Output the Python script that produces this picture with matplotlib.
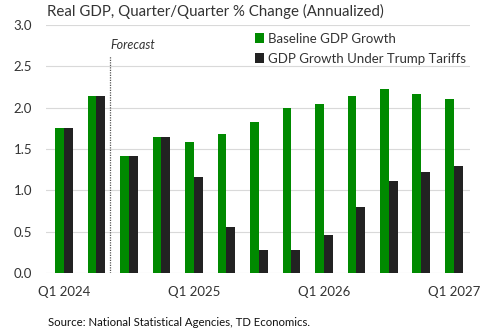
import matplotlib.pyplot as plt
import numpy as np

plt.rcParams['font.family'] = ['Lato', 'DejaVu Sans']

quarters = ['Q1 2024', 'Q2 2024', 'Q3 2024', 'Q4 2024',
            'Q1 2025', 'Q2 2025', 'Q3 2025', 'Q4 2025',
            'Q1 2026', 'Q2 2026', 'Q3 2026', 'Q4 2026', 'Q1 2027']
baseline = [1.76, 2.14, 1.42, 1.64, 1.58, 1.68, 1.83, 2.00, 2.05, 2.14, 2.23, 2.16, 2.11]
tariffs = [1.76, 2.14, 1.42, 1.64, 1.16, 0.56, 0.28, 0.28, 0.46, 0.80, 1.11, 1.22, 1.29]
tick_labels = ['Q1 2024', 'Q1 2025', 'Q1 2026', 'Q1 2027']

txt = '#333333'
x = np.arange(len(quarters))
w = 0.27

fig = plt.figure(figsize=(5, 3.33), dpi=100)
ax = fig.add_axes([0.092, 0.18, 0.848, 0.745])

ax.bar(x - w/2, baseline, w, color='#008a00', label='Baseline GDP Growth', zorder=3)
ax.bar(x + w/2, tariffs, w, color='#222222', label='GDP Growth Under Trump Tariffs', zorder=3)

# forecast divider
ax.axvline(1.43, ymin=0, ymax=0.875, color='#555555', ls=(0, (1, 1)), lw=0.9, zorder=2)
ax.text(1.43, 2.76, 'Forecast', fontsize=9, style='italic', color=txt, va='center', ha='left')

ax.set_xlim(-0.55, 12.5)
ax.set_ylim(0, 3)
ax.set_yticks(np.arange(0, 3.01, 0.5))
ax.set_yticklabels([f'{v:.1f}' for v in np.arange(0, 3.01, 0.5)])
ax.set_xticks([quarters.index(q) for q in tick_labels])
ax.set_xticklabels(tick_labels)
ax.tick_params(length=0, labelsize=9.5, labelcolor=txt)
ax.tick_params(axis='x', pad=9)
ax.tick_params(axis='y', pad=10)
ax.grid(axis='y', color='#d9d9d9', lw=0.8, zorder=0)
for s in ax.spines.values():
    s.set_visible(False)

leg = ax.legend(loc='upper left', bbox_to_anchor=(0.48, 0.99), frameon=False,
                fontsize=9.5, handlelength=0.7, handleheight=0.7, handletextpad=0.3,
                labelspacing=0.6, borderaxespad=0)
for t in leg.get_texts():
    t.set_color(txt)

fig.text(0.094, 0.965, 'Real GDP, Quarter/Quarter % Change (Annualized)', fontsize=10.8,
         color=txt, va='center')
fig.text(0.096, 0.033, 'Source: National Statistical Agencies, TD Economics.', fontsize=8.2,
         color='#111111', va='center')

fig.savefig('out.png', dpi=100)
